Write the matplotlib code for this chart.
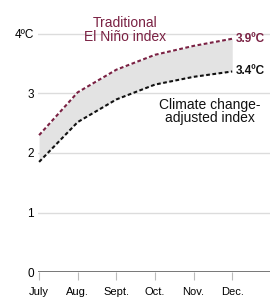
import matplotlib
matplotlib.use("Agg")
import matplotlib.pyplot as plt
import numpy as np

plt.rcParams['font.family'] = ['Liberation Sans', 'DejaVu Sans']

months = ["July", "Aug.", "Sept.", "Oct.", "Nov.", "Dec."]
traditional = [2.3, 3.02, 3.4, 3.65, 3.8, 3.92]
adjusted = [1.85, 2.52, 2.9, 3.15, 3.28, 3.37]
yticks = [0, 1, 2, 3, 4]
ytick_labels = ["0", "1", "2", "3", "4ºC"]

maroon = "#7a2143"
x = np.arange(len(months))

fig = plt.figure(figsize=(2.79, 3.0), dpi=100)
ax = fig.add_axes([0.136, 0.0933, 0.832, 0.843])

for v in yticks[1:]:
    ax.axhline(v, color="#dcdcdc", lw=1.0, zorder=0)
ax.axhline(0, color="#777777", lw=1.4, zorder=1)

ax.fill_between(x, adjusted, traditional, color="#e3e3e3", lw=0, zorder=1)
ax.plot(x, traditional, color=maroon, lw=1.5, ls=(0, (1.8, 1.2)), zorder=3)
ax.plot(x, adjusted, color="#111111", lw=1.5, ls=(0, (1.8, 1.2)), zorder=3)

ax.text(x[-1] + 0.08, traditional[-1], "3.9ºC", color=maroon, fontsize=8.5,
        fontweight="bold", va="center", ha="left")
ax.text(x[-1] + 0.08, adjusted[-1], "3.4ºC", color="#111111", fontsize=8.5,
        fontweight="bold", va="center", ha="left")

ax.text(2.23, 4.07, "Traditional\nEl Niño index", color=maroon, fontsize=10,
        ha="center", va="center", linespacing=0.95)
ax.text(4.42, 2.7, "Climate change-\nadjusted index", color="#111111", fontsize=10,
        ha="center", va="center", linespacing=0.95)

ax.set_xlim(-0.03, 5.98)
ax.set_ylim(0, 4.25)
ax.set_xticks(x)
ax.set_xticklabels(months, fontsize=8)
ax.set_yticks(yticks)
ax.set_yticklabels(ytick_labels, fontsize=8.5)
ax.tick_params(axis="x", length=6, width=0.8, color="#bbbbbb", pad=5)
ax.tick_params(axis="y", length=0, pad=3)
for s in ax.spines.values():
    s.set_visible(False)

fig.savefig("out.png", dpi=100)
